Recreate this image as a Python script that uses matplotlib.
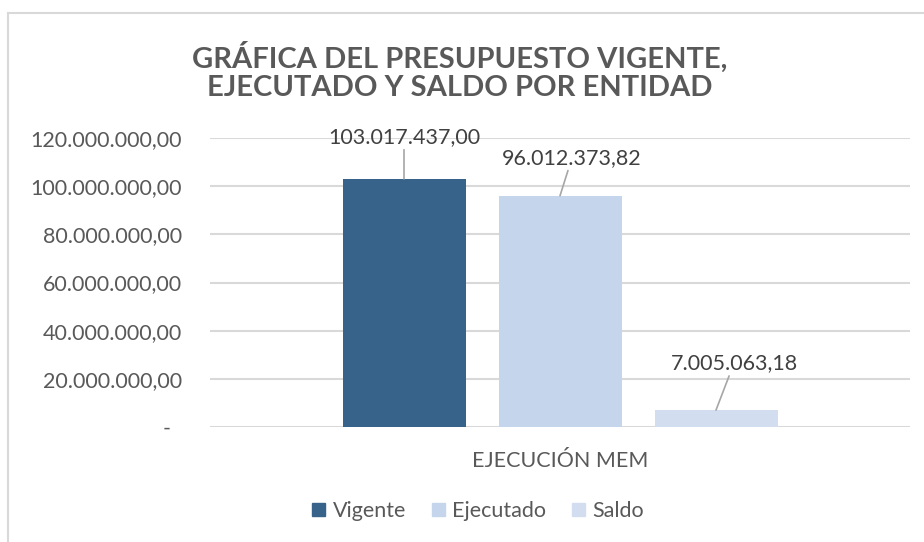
import matplotlib.pyplot as plt
from matplotlib.patches import Patch

series = ['Vigente', 'Ejecutado', 'Saldo']
values = [103017437.00, 96012373.82, 7005063.18]
category = 'EJECUCIÓN MEM'
colors = ['#376289', '#c5d6ec', '#d2deef']
yticks = [0, 20e6, 40e6, 60e6, 80e6, 100e6, 120e6]

# label offsets from bar top (pixels)
label_off = [(0, 42), (12, 38), (18, 47)]

plt.rcParams['font.family'] = ['Lato', 'DejaVu Sans']
txt = '#595959'


def fmt(v):
    s = f'{v:,.2f}'
    return s.replace(',', 'X').replace('.', ',').replace('X', '.')


fig = plt.figure(figsize=(9.24, 5.42), dpi=100)
W, H = 924, 542

# chart border (left and top only visible)
fig.add_artist(plt.Line2D([8 / W, 8 / W], [0, 1 - 13 / H], color='#d9d9d9', lw=1.5))
fig.add_artist(plt.Line2D([8 / W, 1], [1 - 13 / H, 1 - 13 / H], color='#d9d9d9', lw=1.5))

ax = fig.add_axes([210 / W, (H - 427) / H, 700 / W, 289 / H])
step = 156 / 700
width = 123 / 700
xs = [(i - 1) * step for i in range(len(series))]
bars = ax.bar(xs, values, width, color=colors, zorder=3)
ax.set_xlim(-0.5, 0.5)
ax.set_ylim(0, 120e6)

ax.set_yticks(yticks)
ax.set_yticklabels([fmt(v) if v else '-  ' for v in yticks])
ax.tick_params(axis='y', length=0, pad=20, labelsize=15.5, labelcolor=txt)
ax.set_xticks([0])
ax.set_xticklabels([category])
ax.tick_params(axis='x', length=0, pad=17, labelsize=15.5, labelcolor=txt)
ax.grid(axis='y', color='#d9d9d9', lw=1.5, zorder=0)
for s in ax.spines.values():
    s.set_visible(False)

for x, v, (dx, dy) in zip(xs, values, label_off):
    ax.annotate(fmt(v), xy=(x, v), xytext=(dx * 0.72, dy * 0.72),
                textcoords='offset points', ha='center', va='center',
                fontsize=15.5, color='#404040',
                arrowprops=dict(arrowstyle='-', color='#a6a6a6', lw=1.2,
                                shrinkA=0, shrinkB=0))

fig.text(460 / W, 1 - 57 / H, 'GRÁFICA DEL PRESUPUESTO VIGENTE,', ha='center', va='center',
         fontsize=21, fontweight='bold', color=txt)
fig.text(460 / W, 1 - 88 / H, 'EJECUTADO Y SALDO POR ENTIDAD', ha='center', va='center',
         fontsize=21, fontweight='bold', color=txt)

handles = [Patch(color=c) for c in colors]
fig.legend(handles, series, loc='center', bbox_to_anchor=(478 / W, 1 - 511 / H),
           ncol=3, frameon=False, fontsize=15.5, labelcolor=txt,
           handlelength=0.6, handleheight=0.6, handletextpad=0.35, columnspacing=1.2)

fig.savefig('out.png', dpi=100)
